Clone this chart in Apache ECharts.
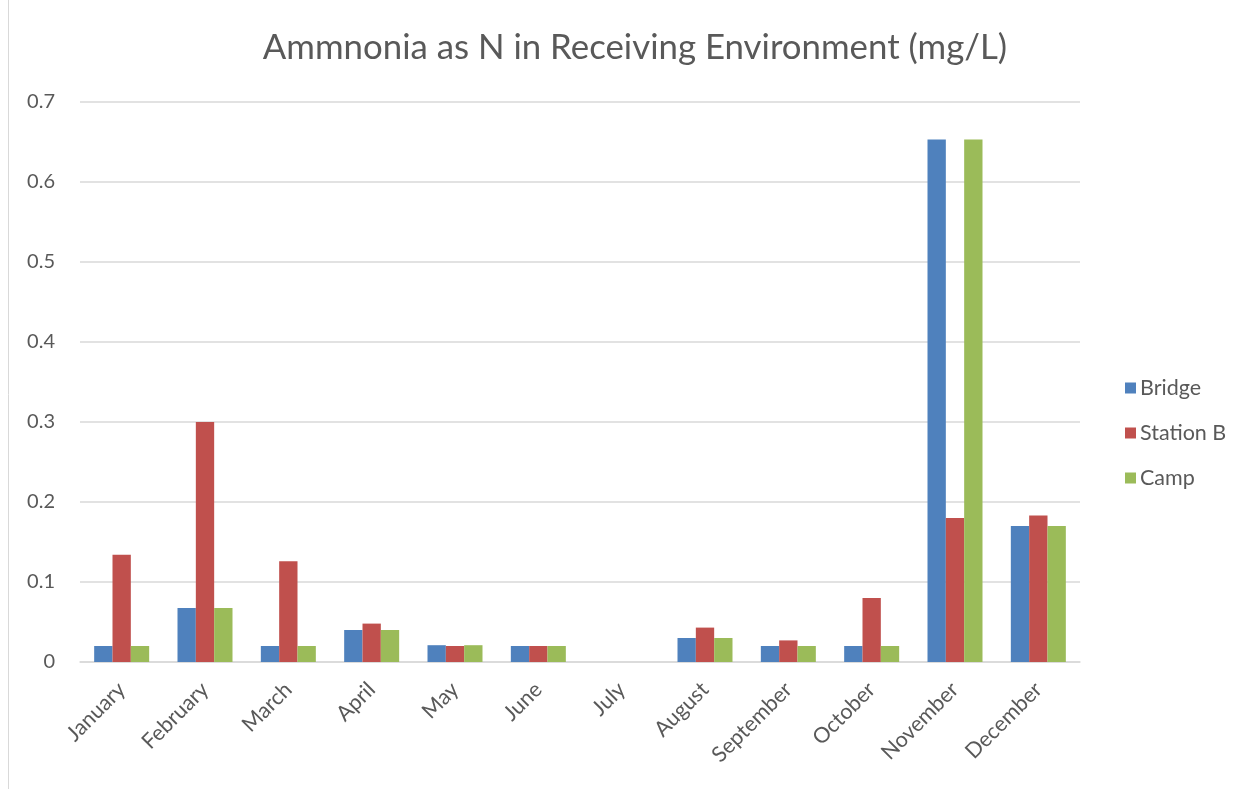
<!DOCTYPE html>
<html>
<head>
<meta charset="utf-8">
<script src="https://cdn.jsdelivr.net/npm/echarts@6/dist/echarts.min.js"></script>
<style>
  html, body { margin: 0; padding: 0; background: #fff; }
  #main { width: 1252px; height: 789px; }
</style>
</head>
<body>
<div id="main"></div>
<script>
// data
var months = ['January', 'February', 'March', 'April', 'May', 'June', 'July',
    'August', 'September', 'October', 'November', 'December'];
var bridge = [0.02, 0.0675, 0.02, 0.04, 0.021, 0.02, null, 0.03, 0.02, 0.02, 0.653, 0.17];
var stationB = [0.134, 0.3, 0.126, 0.048, 0.02, 0.02, null, 0.043, 0.027, 0.08, 0.18, 0.183];
var camp = [0.02, 0.0675, 0.02, 0.04, 0.021, 0.02, null, 0.03, 0.02, 0.02, 0.653, 0.17];
var yTicks = [0, 0.1, 0.2, 0.3, 0.4, 0.5, 0.6, 0.7];

var textColor = '#595959';
var fontFamily = 'Lato, "Open Sans", sans-serif';

var myChart = echarts.init(document.getElementById('main'));

function barSeries(name, data, color) {
    return {
        name: name,
        type: 'bar',
        data: data,
        barGap: 0,
        barCategoryGap: '34%',
        itemStyle: { color: color },
        emphasis: { disabled: true }
    };
}

var option = {
    animation: false,
    textStyle: { fontFamily: fontFamily },
    title: {
        text: 'Ammnonia as N in Receiving Environment (mg/L)',
        left: 630,
        textAlign: 'center',
        top: 25,
        textStyle: { fontSize: 34.8, fontWeight: 'normal', color: textColor, fontFamily: fontFamily }
    },
    legend: {
        orient: 'vertical',
        left: 1120,
        top: 372,
        itemGap: 23,
        itemWidth: 11,
        itemHeight: 11,
        icon: 'rect',
        textStyle: { fontSize: 21.5, color: textColor, fontFamily: fontFamily, padding: [0, 0, 0, -1] },
        data: ['Bridge', 'Station B', 'Camp']
    },
    grid: {
        left: 80,
        right: 172,
        top: 102,
        bottom: 127,
        containLabel: false
    },
    xAxis: {
        type: 'category',
        data: months,
        axisLine: { lineStyle: { color: '#d9d9d9', width: 1.5 } },
        axisTick: { show: false },
        axisLabel: {
            rotate: 45,
            interval: 0,
            margin: 24,
            fontSize: 21.5,
            color: textColor,
            fontFamily: fontFamily
        }
    },
    yAxis: {
        type: 'value',
        min: yTicks[0],
        max: yTicks[yTicks.length - 1],
        interval: 0.1,
        axisLine: { show: false },
        axisTick: { show: false },
        splitLine: { lineStyle: { color: '#d9d9d9', width: 1.5 } },
        axisLabel: {
            margin: 25,
            fontSize: 20,
            color: textColor,
            fontFamily: fontFamily,
            formatter: function (v) { return String(Math.round(v * 10) / 10); }
        }
    },
    graphic: [{
        type: 'line',
        shape: { x1: 8.5, y1: 0, x2: 8.5, y2: 789 },
        style: { stroke: '#d9d9d9', lineWidth: 1 }
    }],
    series: [
        barSeries('Bridge', bridge, '#4f81bd'),
        barSeries('Station B', stationB, '#c0504d'),
        barSeries('Camp', camp, '#9bbb59')
    ]
};

myChart.setOption(option);
</script>
</body>
</html>
